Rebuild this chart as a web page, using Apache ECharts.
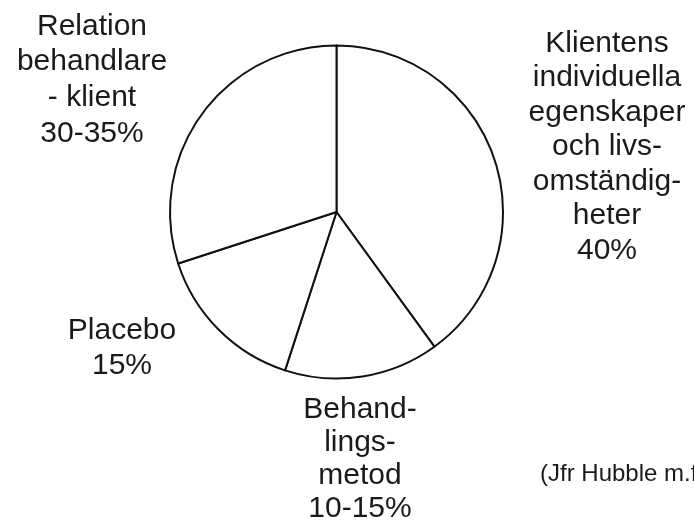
<!DOCTYPE html>
<html>
<head>
<meta charset="utf-8">
<script src="https://cdn.jsdelivr.net/npm/echarts@6/dist/echarts.min.js"></script>
<style>
html,body{margin:0;padding:0;background:#fff;}
#chart{width:694px;height:524px;}
</style>
</head>
<body>
<div id="chart"></div>
<script>
// Data
var categories = [
  'Klientens\nindividuella\negenskaper\noch livs-\nomständig-\nheter',
  'Behand-\nlings-\nmetod',
  'Placebo',
  'Relation\nbehandlare\n- klient'
];
var values = [40, 15, 15, 30];
var valueLabels = ['40%', '10-15%', '15%', '30-35%'];
var footnote = '(Jfr Hubble m.fl.)';

// Layout (positions of label blocks: centre x, centre y, line height)
var labelPos = [
  [607, 147, 34.5],
  [360, 459, 33],
  [122, 348, 35],
  [92, 80, 35.7]
];

var chart = echarts.init(document.getElementById('chart'), null, {renderer: 'canvas'});
var font = "'Liberation Sans', Arial, Helvetica, sans-serif";

var seriesData = categories.map(function (c, i) {
  return {
    name: c,
    value: values[i],
    label: { lineHeight: labelPos[i][2] }
  };
});

chart.setOption({
  animation: false,
  backgroundColor: '#ffffff',
  series: [{
    type: 'pie',
    center: [336.5, 212],
    radius: 166.5,
    startAngle: 90,
    clockwise: true,
    silent: true,
    itemStyle: { color: '#ffffff', borderColor: '#111111', borderWidth: 2 },
    emphasis: { disabled: true },
    label: {
      show: true,
      position: 'outside',
      color: '#1a1a1a',
      fontFamily: font,
      fontSize: 30,
      align: 'center',
      width: 400,
      overflow: 'none',
      formatter: function (p) { return p.name + '\n' + valueLabels[p.dataIndex]; }
    },
    labelLine: { show: false },
    labelLayout: function (p) {
      var pos = labelPos[p.dataIndex];
      return { x: pos[0], y: pos[1], align: 'center', verticalAlign: 'middle', hideOverlap: false, moveOverlap: null };
    },
    data: seriesData
  }],
  graphic: [{
    type: 'text',
    left: 540,
    top: 462,
    style: { text: footnote, font: '24px ' + font, fill: '#1a1a1a' }
  }]
});
</script>
</body>
</html>
